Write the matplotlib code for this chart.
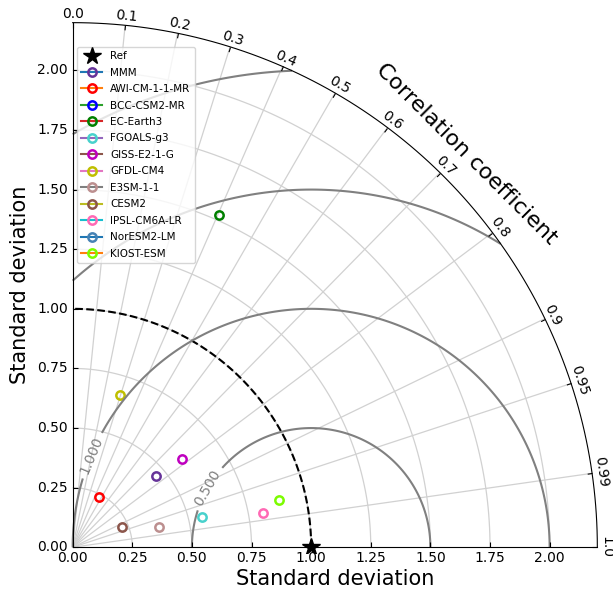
import numpy as np
import matplotlib
matplotlib.use("Agg")
import matplotlib.pyplot as plt
from matplotlib.projections import PolarAxes
import mpl_toolkits.axisartist.floating_axes as fa
import mpl_toolkits.axisartist.grid_finder as gf

# reference and model statistics (std normalised by reference)
ref_std = 1.0
models = ["MMM", "AWI-CM-1-1-MR", "BCC-CSM2-MR", "EC-Earth3", "FGOALS-g3",
          "GISS-E2-1-G", "GFDL-CM4", "E3SM-1-1", "CESM2", "IPSL-CM6A-LR",
          "NorESM2-LM", "KIOST-ESM"]
model_std = [0.457, 0.237, np.nan, 1.522, 0.557, 0.590, 0.668, 0.371, 0.223,
             0.812, np.nan, 0.889]
model_corr = [0.760, 0.464, np.nan, 0.404, 0.974, 0.779, 0.294, 0.973, 0.924,
              0.984, np.nan, 0.975]
edge_colors = ["rebeccapurple", "red", "blue", "green", "mediumturquoise", "m",
               "y", "rosybrown", "#8c564b", "hotpink", "steelblue", "lawngreen"]

corr_ticks = [0.0, 0.1, 0.2, 0.3, 0.4, 0.5, 0.6, 0.7, 0.8, 0.9, 0.95, 0.99, 1.0]
std_ticks = [0.0, 0.25, 0.5, 0.75, 1.0, 1.25, 1.5, 1.75, 2.0]
rms_levels = [0.5, 1.0, 1.5, 2.0]
smax = 2.2

fig = plt.figure(figsize=(6.13, 5.97), dpi=100)

tr = PolarAxes.PolarTransform(apply_theta_transforms=False)
tlocs = np.arccos(corr_ticks)
gl1 = gf.FixedLocator(tlocs)
tf1 = gf.DictFormatter(dict(zip(tlocs, [str(c) for c in corr_ticks])))
gl2 = gf.FixedLocator(std_ticks)
tf2 = gf.DictFormatter({s: "%.2f" % s for s in std_ticks})
ghelper = fa.GridHelperCurveLinear(tr, extremes=(0, np.pi / 2, 0, smax),
                                   grid_locator1=gl1, tick_formatter1=tf1,
                                   grid_locator2=gl2, tick_formatter2=tf2)
ax = fa.FloatingAxes(fig, [0.110, 0.0744, 0.873, 0.8965], grid_helper=ghelper)
fig.add_axes(ax)

ax.axis["top"].set_axis_direction("bottom")
ax.axis["top"].toggle(ticklabels=True, label=True)
ax.axis["top"].major_ticklabels.set_axis_direction("top")
ax.axis["top"].label.set_axis_direction("top")
ax.axis["top"].label.set_text("Correlation coefficient")
ax.axis["top"].label.set_fontsize(16)

ax.axis["left"].set_axis_direction("bottom")
ax.axis["left"].label.set_text("Standard deviation")
ax.axis["left"].label.set_fontsize(15)

ax.axis["right"].set_axis_direction("top")
ax.axis["right"].toggle(ticklabels=True, label=True)
ax.axis["right"].major_ticklabels.set_axis_direction("left")
ax.axis["right"].label.set_text("Standard deviation")
ax.axis["right"].label.set_fontsize(15)
ax.axis["bottom"].set_visible(False)

ax.grid(True, color="0.82", lw=0.9)

aux = ax.get_aux_axes(tr)

# reference point and its std circle
ref_line, = aux.plot([0], [ref_std], "k*", ls="", ms=13, label="Ref")
t = np.linspace(0, np.pi / 2, 100)
aux.plot(t, np.zeros_like(t) + ref_std, "k--", lw=1.5)

handles = [ref_line]
for name, s, c, col in zip(models, model_std, model_corr, edge_colors):
    l, = aux.plot(np.arccos(c), s, marker="o", ms=6, mfc="none", mec=col,
                  mew=1.8, label=name)
    handles.append(l)

# centred RMS contours
rs, ts = np.meshgrid(np.linspace(0, smax, 200), np.linspace(0, np.pi / 2, 200))
rms = np.sqrt(ref_std ** 2 + rs ** 2 - 2 * ref_std * rs * np.cos(ts))
cs = aux.contour(ts, rs, rms, rms_levels, colors="0.5", linewidths=1.5)
aux.clabel(cs, [0.5, 1.0], inline=True, fontsize=10, fmt="%.3f",
           manual=[(1.36, 0.393), (0.419, 0.617)])

fig.legend(handles, [h.get_label() for h in handles], numpoints=1, fontsize=7.5,
           labelspacing=0.62, loc="upper left", bbox_to_anchor=(0.1256, 0.9213),
           borderaxespad=0)

fig.savefig("out.png", dpi=100)
